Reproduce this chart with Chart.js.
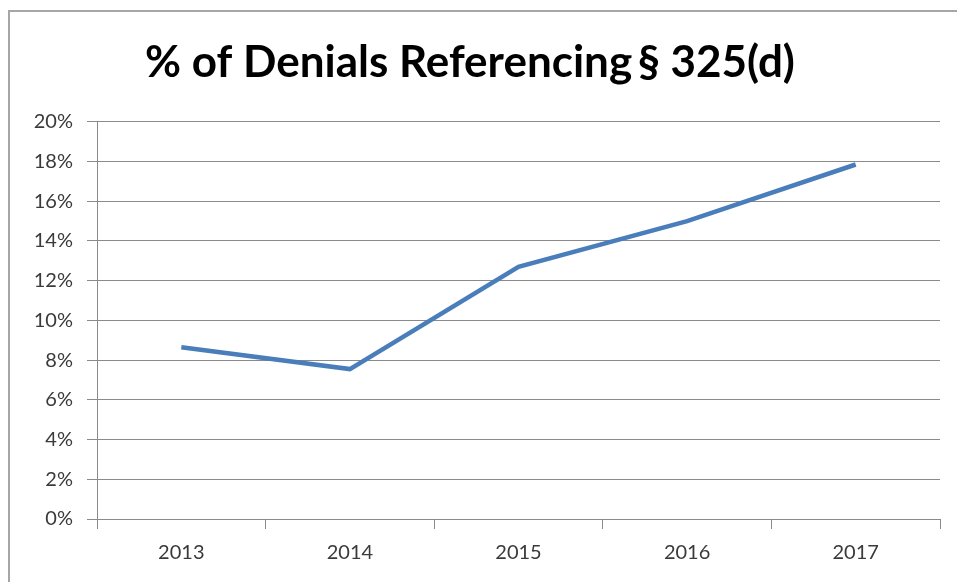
<!DOCTYPE html>
<html>
<head>
<meta charset="utf-8">
<script src="https://cdn.jsdelivr.net/npm/chart.js@4"></script>
<style>
html, body { margin: 0; padding: 0; background: #fff; }
#frame { position: absolute; left: 8px; top: 10px; width: 1000px; height: 650px; border: 2px solid #a6a6a6; }
#wrap { position: absolute; left: 0; top: 0; width: 957px; height: 582px; }
</style>
</head>
<body>
<div id="frame"></div>
<div id="wrap"><canvas id="chart"></canvas></div>
<script>
// Data
const years = ['2013', '2014', '2015', '2016', '2017'];
const denialPct = [8.65, 7.55, 12.7, 15.0, 17.85];
const yTicks = [0, 2, 4, 6, 8, 10, 12, 14, 16, 18, 20];

const labelFont = { family: 'Lato', size: 20 };
const gridGrey = '#8a8a8a';

new Chart(document.getElementById('chart'), {
    type: 'line',
    data: {
        labels: years,
        datasets: [{
            label: '% of Denials',
            data: denialPct,
            borderColor: '#4a7ebb',
            borderWidth: 4.5,
            pointRadius: 0,
            tension: 0,
            fill: false
        }]
    },
    options: {
        responsive: true,
        maintainAspectRatio: false,
        animation: false,
        layout: { padding: { left: 0, right: 17, top: 0, bottom: 0 } },
        plugins: {
            legend: { display: false },
            tooltip: { enabled: false },
            title: {
                display: true,
                text: '% of Denials Referencing\u2009\u00a7 325(d)',
                color: '#000',
                font: { family: 'Lato', size: 44, weight: 'bold' },
                padding: { top: 36, bottom: 33 }
            }
        },
        scales: {
            x: {
                offset: true,
                grid: { offset: true, drawOnChartArea: false, drawTicks: true, tickLength: 10, color: gridGrey },
                border: { color: gridGrey, width: 1 },
                ticks: { color: '#3a3a3a', font: labelFont, padding: 12 },
                afterFit: s => { s.height = 63; }
            },
            y: {
                min: 0,
                max: 20,
                afterBuildTicks: s => { s.ticks = yTicks.map(v => ({ value: v })); },
                grid: { color: gridGrey, lineWidth: 1, tickLength: 10 },
                border: { color: gridGrey, width: 1 },
                ticks: { color: '#3a3a3a', font: labelFont, padding: 14, callback: v => v + '%' },
                afterFit: s => { s.width = 97; }
            }
        }
    }
});
</script>
</body>
</html>
